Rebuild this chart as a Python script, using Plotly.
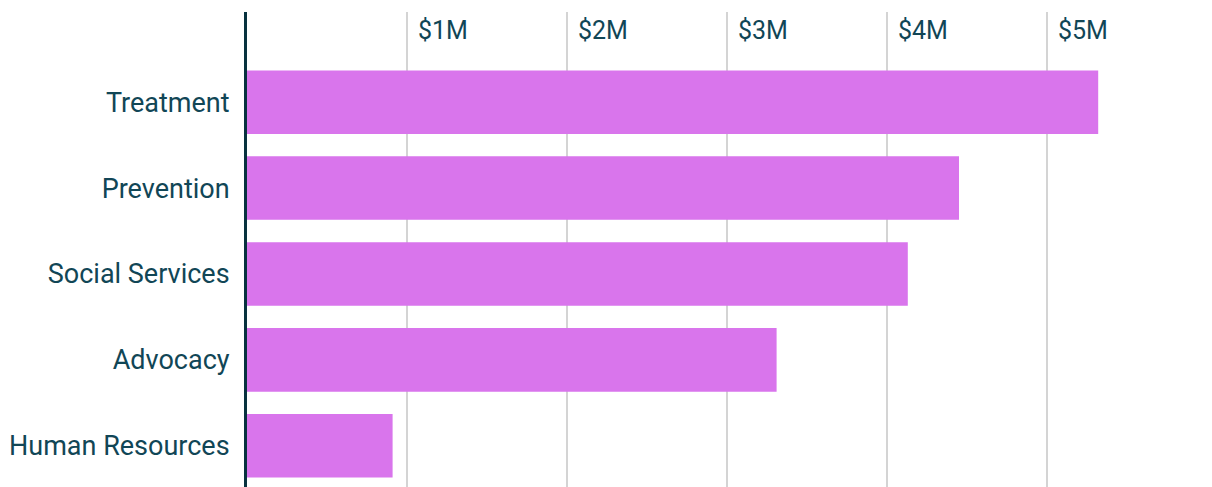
import plotly.graph_objects as go

categories = ["Treatment", "Prevention", "Social Services", "Advocacy", "Human Resources"]
values = [5.32e6, 4.45e6, 4.13e6, 3.31e6, 0.91e6]
tick_vals = [0, 1e6, 2e6, 3e6, 4e6, 5e6, 6e6]
tick_text = ["", "$1M", "$2M", "$3M", "$4M", "$5M", ""]

text_color = "#114656"
fig = go.Figure(go.Bar(
    x=values, y=categories, orientation="h",
    marker=dict(color="#d975ec", line=dict(width=0)),
    hoverinfo="x+y",
))
fig.update_layout(
    width=1212, height=487,
    margin=dict(l=247, r=5, t=12, b=0),
    paper_bgcolor="white", plot_bgcolor="white",
    bargap=0.26,
    showlegend=False,
    font=dict(family="Roboto", size=24, color=text_color),
)
fig.update_xaxes(
    side="top", range=[0, 6e6], tickvals=tick_vals, ticktext=tick_text,
    showgrid=True, gridcolor="#d4d4d4", gridwidth=1.5,
    ticklabelposition="inside right", ticks="",
    ticklabelshift=11, ticklabelstandoff=3,
    zeroline=False, showline=False,
    tickfont=dict(size=25, color=text_color),
)
fig.update_yaxes(
    categoryorder="array", categoryarray=categories,
    range=[4.48, -1.05],
    showline=True, linecolor="#08323f", linewidth=3,
    ticks="", ticklabelstandoff=9,
    showgrid=False, zeroline=False,
    tickfont=dict(size=27, color=text_color),
)
fig.write_html("out.html", config={"displayModeBar": False},
               post_script="document.body.style.margin='0';document.body.style.overflow='hidden';")
